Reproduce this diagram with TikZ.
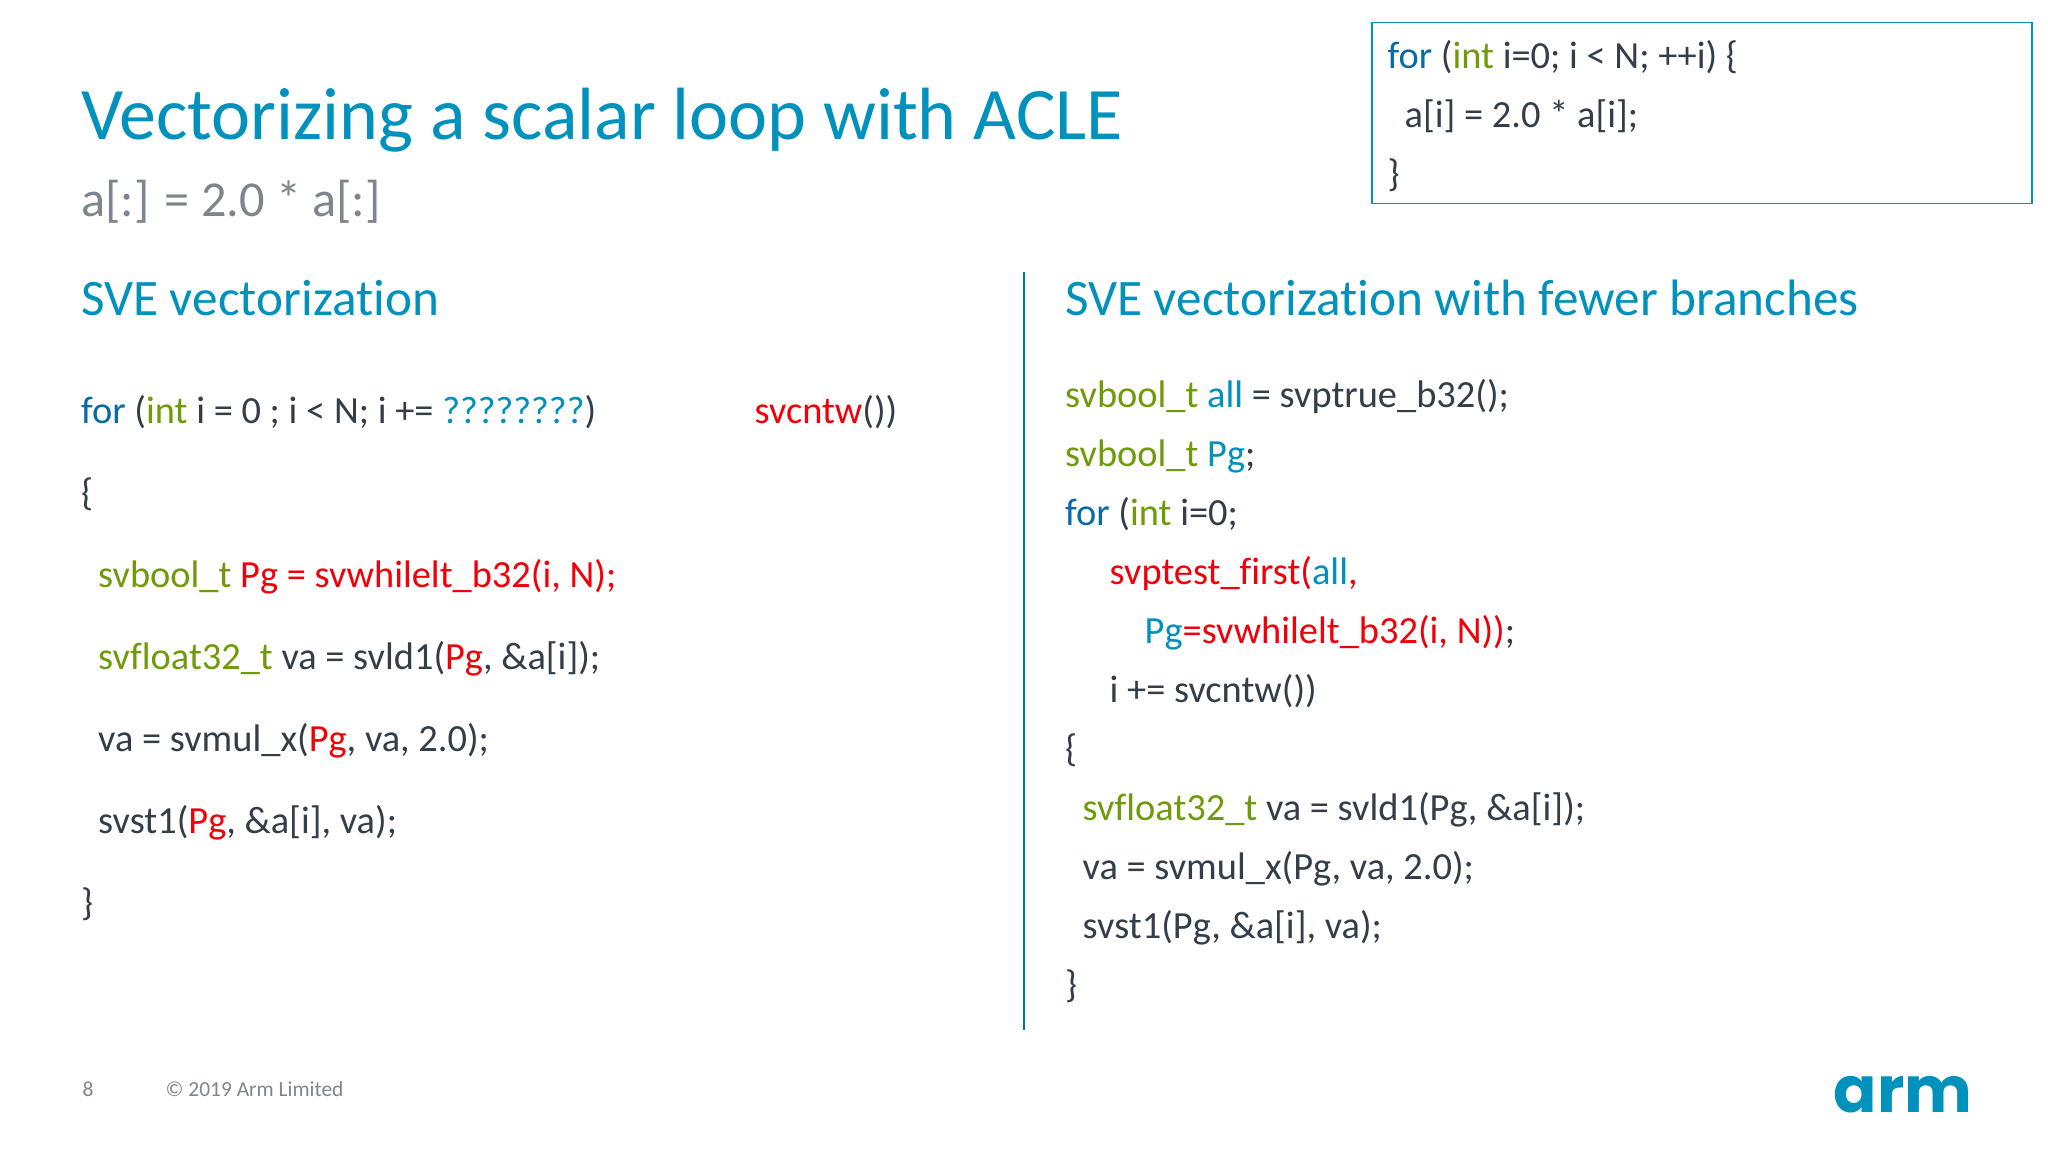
\documentclass[tikz,border=0pt]{standalone}
\usepackage{fontspec}
\setmainfont{Carlito}[Ligatures=NoCommon]
\newfontfamily\armfont{Poppins}
\usepackage{xcolor}
\usepackage{tikz}
\definecolor{armblue}{HTML}{0091BD}
\definecolor{forblue}{HTML}{0A6AA8}
\definecolor{typegreen}{HTML}{6F9A0A}
\definecolor{codegray}{HTML}{333E48}
\definecolor{subgray}{HTML}{7D868C}
\definecolor{pgred}{HTML}{F00008}
\newcommand{\kwfor}{\textcolor{forblue}{for}}
\newcommand{\grn}[1]{\textcolor{typegreen}{#1}}
\newcommand{\rd}[1]{\textcolor{pgred}{#1}}
\newcommand{\blu}[1]{\textcolor{armblue}{#1}}
\tikzset{
  codeline/.style={anchor=base west,inner sep=0pt,text=codegray,font=\fontsize{10.93}{13}\selectfont},
  headline/.style={anchor=base west,inner sep=0pt,text=armblue,font=\fontsize{14.57}{17}\selectfont},
  footline/.style={anchor=base west,inner sep=0pt,text=subgray,font=\fontsize{6.1}{8}\selectfont},
}
\begin{document}
\begin{tikzpicture}
\useasboundingbox (0, 0) rectangle (20.48, 11.52);
%%% Title and the scalar loop
\node[anchor=base west,inner sep=0pt,text=armblue,font=\fontsize{21.07}{24}\selectfont] (title) at (0.805, 10.12) {Vectorizing a scalar loop with ACLE};
\node[anchor=base west,inner sep=0pt,text=subgray,font=\fontsize{14.3}{17}\selectfont] (subtitle) at (0.805, 9.355) {a[:] = 2.0 * a[:]};
\node[draw=armblue,line width=0.5pt,inner sep=0pt,minimum width=6.60cm,minimum height=1.81cm] (loopbox) at (17.02, 10.39) {};
\node[codeline] (box1) at (13.87, 10.83) {\kwfor{} (\grn{int} i=0; i < N; ++i)~\{};
\node[codeline] (box2) at (14.04, 10.24) {a[i] = 2.0 * a[i];};
\node[codeline] (box3) at (13.87, 9.65) {\}};
%
%%% Left column
\node[headline] (lefthead) at (0.805, 8.36) {SVE vectorization};
\node[codeline] (left1) at (0.805, 7.285) {\kwfor{} (\grn{int} i = 0 ; i < N; i += \blu{????????})};
\node[codeline] (cntw) at (7.54, 7.285) {\rd{svcntw}()) };
\node[codeline] (left2) at (0.805, 6.465) {\{};
\node[codeline] (left3) at (0.975, 5.645) {\grn{svbool\_t} \rd{Pg = svwhilelt\_b32(i, N);}};
\node[codeline] (left4) at (0.975, 4.825) {\grn{svfloat32\_t} va = svld1(\rd{Pg}, \&a[i]);};
\node[codeline] (left5) at (0.975, 4.005) {va = svmul\_x(\rd{Pg}, va, 2.0);};
\node[codeline] (left6) at (0.975, 3.185) {svst1(\rd{Pg}, \&a[i], va);};
\node[codeline] (left7) at (0.805, 2.365) {\}};
%
%%% The divider
\coordinate (divtop) at (10.24, 8.80);
\coordinate (divbot) at (10.24, 1.22);
\draw[line width=0.6pt, armblue!80!black] (divtop) -- (divbot);
%
%%% Right column
\node[headline] (righthead) at (10.645, 8.36) {SVE vectorization with fewer branches};
\node[codeline] (right1) at (10.645, 7.445) {\grn{svbool\_t} \blu{all} = svptrue\_b32();};
\node[codeline] (right2) at (10.645, 6.855) {\grn{svbool\_t} \blu{Pg};};
\node[codeline] (right3) at (10.645, 6.265) {\kwfor{} (\grn{int} i=0;};
\node[codeline] (right4) at (11.09, 5.675) {\rd{svptest\_first(}\blu{all}\rd{,}};
\node[codeline] (right5) at (11.44, 5.085) {\blu{Pg}\rd{=svwhilelt\_b32(i, N))};};
\node[codeline] (right6) at (11.09, 4.495) {i += svcntw())};
\node[codeline] (right7) at (10.645, 3.905) {\{};
\node[codeline] (right8) at (10.82, 3.315) {\grn{svfloat32\_t} va = svld1(Pg, \&a[i]);};
\node[codeline] (right9) at (10.82, 2.725) {va = svmul\_x(Pg, va, 2.0);};
\node[codeline] (right10) at (10.82, 2.135) {svst1(Pg, \&a[i], va);};
\node[codeline] (right11) at (10.645, 1.545) {\}};
%
%%% Footer
\node[footline] (pagenum) at (0.82, 0.555) {8};
\node[footline] (copyright) at (1.65, 0.555) {© 2019 Arm Limited};
\node[anchor=base east,inner sep=0pt,text=armblue,font=\armfont\bfseries\fontsize{18.2}{20}\selectfont] (armlogo) at (19.73, 0.39) {arm};
\end{tikzpicture}
\end{document}
